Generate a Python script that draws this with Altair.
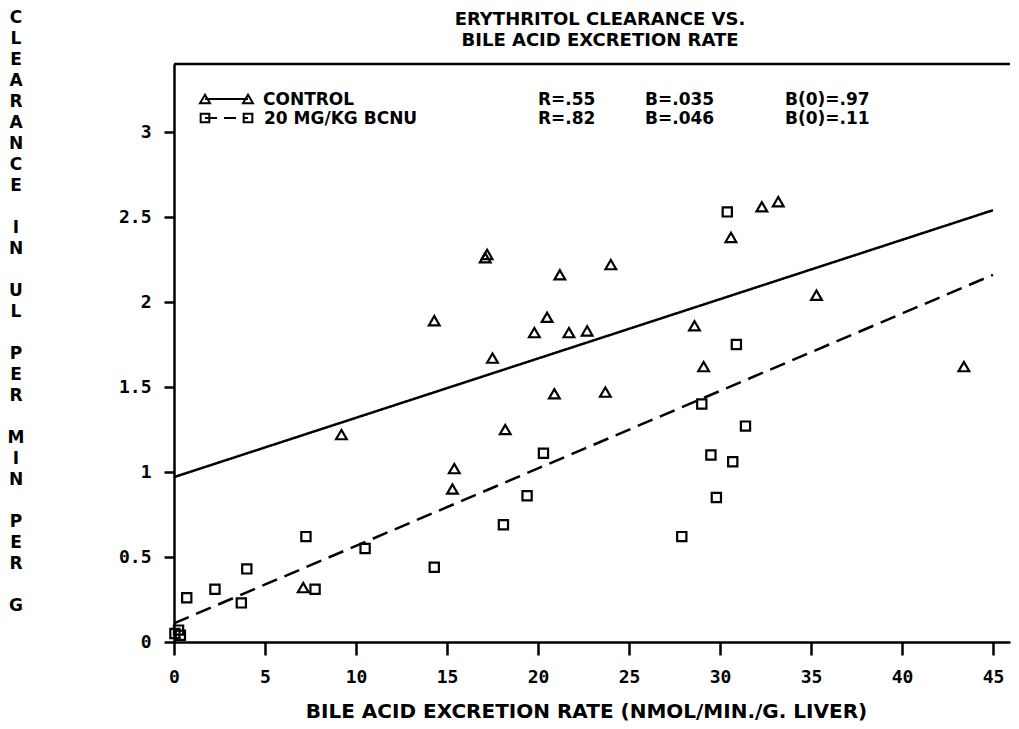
import altair as alt
import pandas as pd

# ---------------- data ----------------
groups = ["CONTROL", "20 MG/KG BCNU"]

ctrl_x = [7.1, 9.2, 14.3, 15.3, 15.4, 17.1, 17.2, 17.5, 18.2, 19.8, 20.5, 20.9,
          21.2, 21.7, 22.7, 23.7, 24.0, 28.6, 29.1, 30.6, 32.3, 33.2, 35.3, 43.4]
ctrl_y = [0.32, 1.22, 1.89, 0.90, 1.02, 2.26, 2.28, 1.67, 1.25, 1.82, 1.91, 1.46,
          2.16, 1.82, 1.83, 1.47, 2.22, 1.86, 1.62, 2.38, 2.56, 2.59, 2.04, 1.62]

bcnu_x = [0.05, 0.25, 0.35, 0.7, 2.25, 3.7, 4.0, 7.25, 7.75, 10.5, 14.3, 18.1,
          19.4, 20.3, 27.9, 29.0, 29.5, 29.8, 30.4, 30.7, 30.9, 31.4]
bcnu_y = [0.05, 0.07, 0.04, 0.26, 0.31, 0.23, 0.43, 0.62, 0.31, 0.55, 0.44, 0.69,
          0.86, 1.11, 0.62, 1.40, 1.10, 0.85, 2.53, 1.06, 1.75, 1.27]

fit_x = [0, 45]
ctrl_fit_y = [0.97, 2.54]
bcnu_fit_y = [0.11, 2.16]

x_ticks = [0, 5, 10, 15, 20, 25, 30, 35, 40, 45]
y_ticks = [0, 0.5, 1, 1.5, 2, 2.5, 3]

stats_ctrl = ["R=.55", "B=.035", "B(0)=.97"]
stats_bcnu = ["R=.82", "B=.046", "B(0)=.11"]

title_lines = ["ERYTHRITOL CLEARANCE VS.", "BILE ACID EXCRETION RATE"]
x_title = "BILE ACID EXCRETION RATE (NMOL/MIN./G. LIVER)"
y_words = ["CLEARANCE", "IN", "UL", "PER", "MIN", "PER", "G"]

# ---------------- tables ----------------
pts = pd.DataFrame({
    "x": ctrl_x + bcnu_x,
    "y": ctrl_y + bcnu_y,
    "g": [groups[0]] * len(ctrl_x) + [groups[1]] * len(bcnu_x),
})
fits = pd.DataFrame({
    "x": fit_x + fit_x,
    "y": ctrl_fit_y + bcnu_fit_y,
    "g": [groups[0]] * 2 + [groups[1]] * 2,
})

# ---------------- layout ----------------
W, H = 836, 578
XMAX = W / 18.2
YMAX = 3.4
FONT = "DejaVu Sans"
MONO = "DejaVu Sans Mono"
LW = 2.5

xs = alt.Scale(domain=[0, XMAX], nice=False, zero=False)
ys = alt.Scale(domain=[0, YMAX], nice=False, zero=False)

xaxis = alt.Axis(
    values=x_ticks, grid=False, title=x_title,
    domainColor="black", domainWidth=LW, tickColor="black", tickWidth=LW, tickSize=13,
    labelFont=MONO, labelFontSize=18, labelFontWeight="bold", labelColor="black",
    labelPadding=13, labelFlush=False,
    titleFont=FONT, titleFontSize=20, titleFontWeight="bold", titleColor="black",
    titleX=412, titleY=75, titleBaseline="alphabetic", titleAlign="center",
)
yaxis = alt.Axis(
    values=y_ticks, grid=False, title=None, format=".1~f",
    domainColor="black", domainWidth=LW, tickColor="black", tickWidth=LW, tickSize=10,
    labelFont=MONO, labelFontSize=18, labelFontWeight="bold", labelColor="black",
    labelPadding=13, labelFlush=False,
)

points = alt.Chart(pts).mark_point(filled=False, strokeWidth=2.2, color="black", opacity=1).encode(
    x=alt.X("x:Q", scale=xs, axis=xaxis),
    y=alt.Y("y:Q", scale=ys, axis=yaxis),
    shape=alt.Shape("g:N", scale=alt.Scale(domain=groups, range=["triangle-up", "square"]), legend=None),
    size=alt.Size("g:N", scale=alt.Scale(domain=groups, range=[115, 85]), legend=None),
)

lines = alt.Chart(fits).mark_line(color="black", strokeWidth=LW).encode(
    x=alt.X("x:Q", scale=xs),
    y=alt.Y("y:Q", scale=ys),
    detail="g:N",
    strokeDash=alt.StrokeDash("g:N", scale=alt.Scale(domain=groups, range=[[1, 0], [16, 8]]), legend=None),
)

one = alt.Data(values=[{"k": 1}])

top_rule = alt.Chart(one).mark_rule(color="black", strokeWidth=LW).encode(
    x=alt.value(0), x2=alt.value(W), y=alt.value(0))

# chart title (two lines)
title_marks = [
    alt.Chart(one).mark_text(font=FONT, fontSize=18, fontWeight="bold", color="black",
                             align="center", baseline="middle", text=t).encode(
        x=alt.value(426), y=alt.value(yy))
    for t, yy in zip(title_lines, [-44.5, -23.5])
]

# vertical y-axis title: one stacked-letter text per word, a blank line between words
YT_PITCH = 21
YT_TOP = -46
ytitle = []
idx = 0
for w in y_words:
    ytitle.append(alt.Chart(one).mark_text(
        font=FONT, fontSize=17, fontWeight="bold", color="black",
        align="center", baseline="middle", lineHeight=YT_PITCH, text=list(w),
    ).encode(x=alt.value(-158), y=alt.value(YT_TOP + idx * YT_PITCH)))
    idx += len(w) + 1

# custom legend (pixel positions inside the plot)
L1, L2 = 35, 54
XA, XB = 31, 74
leg = [
    alt.Chart(one).mark_rule(color="black", strokeWidth=2).encode(
        x=alt.value(XA), x2=alt.value(XB), y=alt.value(L1)),
    alt.Chart(one).mark_rule(color="black", strokeWidth=2, strokeDash=[12, 7]).encode(
        x=alt.value(XA), x2=alt.value(XB), y=alt.value(L2)),
]
for xp in (XA, XB):
    leg.append(alt.Chart(one).mark_point(shape="triangle-up", filled=False, size=100,
                                         strokeWidth=2, color="black", opacity=1).encode(
        x=alt.value(xp), y=alt.value(L1)))
    leg.append(alt.Chart(one).mark_point(shape="square", filled=False, size=75,
                                         strokeWidth=2, color="black", opacity=1).encode(
        x=alt.value(xp), y=alt.value(L2)))

def label(txt, xp, yp, size=17):
    return alt.Chart(one).mark_text(
        font=FONT, fontSize=size, fontWeight="bold", color="black",
        align="left", baseline="middle", text=txt,
    ).encode(x=alt.value(xp), y=alt.value(yp))

leg.append(label(groups[0], 89, L1 + 1))
leg.append(label(groups[1], 90, L2 + 1))
for txt, xp in zip(stats_ctrl, [364, 471, 611]):
    leg.append(label(txt, xp, L1 + 1))
for txt, xp in zip(stats_bcnu, [364, 471, 611]):
    leg.append(label(txt, xp, L2 + 1))

chart = alt.layer(lines, points, top_rule, *ytitle, *title_marks, *leg).properties(
    width=W, height=H,
    autosize=alt.AutoSizeParams(type="none"),
    padding={"left": 166, "top": 56, "right": 1, "bottom": 79},
    background="white",
).configure_view(stroke=None)

chart.save("out.html", embed_options={"renderer": "svg", "actions": False})
